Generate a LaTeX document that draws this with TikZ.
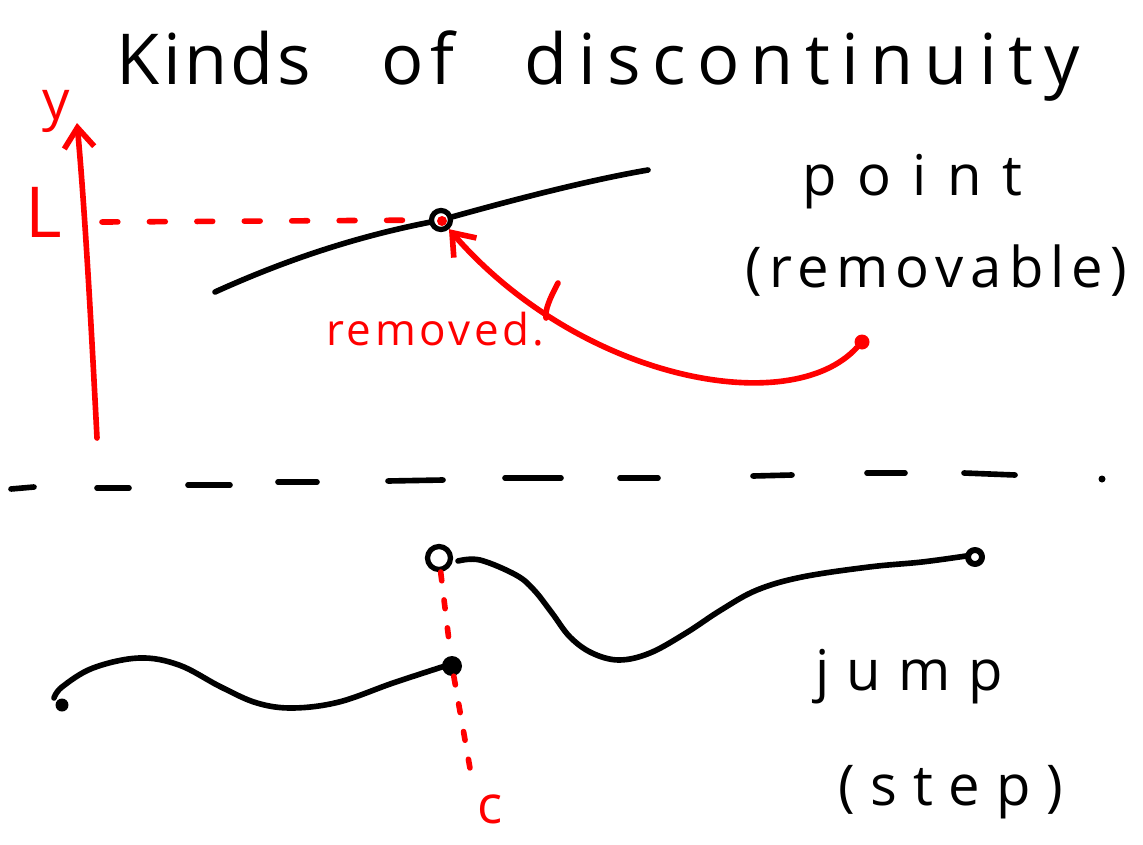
\documentclass[tikz,border=0pt]{standalone}
\usepackage{fontspec}
\setmainfont{Open Sans}
\usetikzlibrary{arrows.meta}
\definecolor{markerred}{HTML}{FF0000}
\definecolor{markerblack}{HTML}{000000}
\newcommand{\handfont}[2]{\fontsize{#1}{#1}\selectfont\addfontfeature{LetterSpace=#2}}

\begin{document}
\begin{tikzpicture}[x=0.02cm, y=-0.02cm, line cap=round, line join=round,
    >={Straight Barb[length=0.4cm, width=0.6cm]},
    pen/.style={markerblack, line width=3.2pt},
    redpen/.style={markerred, line width=3.2pt},
    handtext/.style={inner sep=0pt, anchor=base west, markerblack},
    redtext/.style={inner sep=0pt, anchor=base west, markerred},
    hole/.style={circle, draw=markerblack, line width=3pt, fill=white, inner sep=0pt, minimum size=0.38cm},
    blob/.style={circle, fill=#1, inner sep=0pt, minimum size=0.4cm}]

    \useasboundingbox (0,0) rectangle (1143,845);

    % Title
    \node[handtext, font=\handfont{40}{5}] (kinds) at (116,84) {Kinds};
    \node[handtext, font=\handfont{40}{10}] (of) at (381,84) {of};
    \node[handtext, font=\handfont{40}{16}] (discont) at (524,84) {discontinuity};

    % y axis and limit L
    \coordinate (ybase) at (97,438);
    \coordinate (ytip) at (77,123);
    \draw[redpen, ->] (ybase) .. controls (90,300) and (84,200) .. (ytip);
    \node[redtext, font=\handfont{31}{0}] (ylabel) at (42,119) {y};
    \node[redtext, font=\handfont{40}{0}] (Llabel) at (25,237) {L};

    % Removable point
    \node[hole] (gap) at (441,220) {};
    \coordinate (Lmark) at (102,222);
    \draw[redpen, dash pattern=on 9pt off 18pt] (Lmark) -- (gap);
    \coordinate (leftpiece) at (215,292);
    \coordinate (rightpiece) at (648,170);
    \draw[pen] (leftpiece) .. controls (290,258) and (360,236) .. (gap);
    \draw[pen] (gap) .. controls (520,198) and (590,180) .. (rightpiece);
    \node[blob=markerred, minimum size=0.2cm] (plug) at (442,221) {};
    \node[blob=markerred, minimum size=0.3cm] (source) at (862,342) {};
    \draw[redpen, ->] (source) .. controls (790,420) and (580,380) .. (gap);
    \draw[redpen] (558,283) .. controls (549,300) and (545,310) .. (546,318);
    \node[redtext, font=\handfont{25}{8}] (removed) at (326,345) {removed.};

    \node[handtext, font=\handfont{32}{37}] (pointlab) at (802,195) {point};
    \node[handtext, font=\handfont{32}{12.5}] (removable) at (745,287) {(removable)};

    % Separator
    \foreach \xa/\xb/\ya/\yb in {11/34/489/487, 97/129/488/488, 188/230/485/485, 278/317/482/482, 388/443/481/480, 505/561/478/478, 620/658/478/478, 753/792/476/475, 867/905/473/473, 964/1015/473/475}
        \draw[pen] (\xa,\ya) -- (\xb,\yb);
    \fill[markerblack] (1102,479) circle (3.5);

    % Jump
    \node[hole, minimum size=0.46cm] (jumpopen) at (439,558) {};
    \node[blob=markerblack] (jumpfilled) at (452,666) {};
    \node[hole, minimum size=0.28cm, line width=3.4pt] (rightend) at (975,557) {};
    \node[blob=markerblack, minimum size=0.26cm] (leftend) at (62,705) {};
    \draw[pen] plot[smooth, tension=0.6] coordinates {(54,698) (62,687) (93,668) (139,658) (179,665) (221,687) (257,703) (293,708) (339,702) (393,683) (445,666)};
    \draw[pen] plot[smooth, tension=0.6] coordinates {(458,561) (480,560) (516,575) (534,590) (552,613) (570,637) (592,653) (619,660) (650,653) (686,633) (721,610) (757,590) (802,577) (869,567) (922,562) (966,556)};
    \coordinate (cfoot) at (471,774);
    \draw[redpen, dash pattern=on 5pt off 11pt] (jumpopen) -- (jumpfilled);
    \draw[redpen, dash pattern=on 5pt off 11pt] (jumpfilled) -- (cfoot);
    \node[redtext, font=\handfont{30}{0}] (clabel) at (477,823) {c};

    \node[handtext, font=\handfont{32}{31}] (jumplab) at (815,690) {jump};
    \node[handtext, font=\handfont{32}{28}] (steplab) at (838,805) {(step)};

\end{tikzpicture}
\end{document}
